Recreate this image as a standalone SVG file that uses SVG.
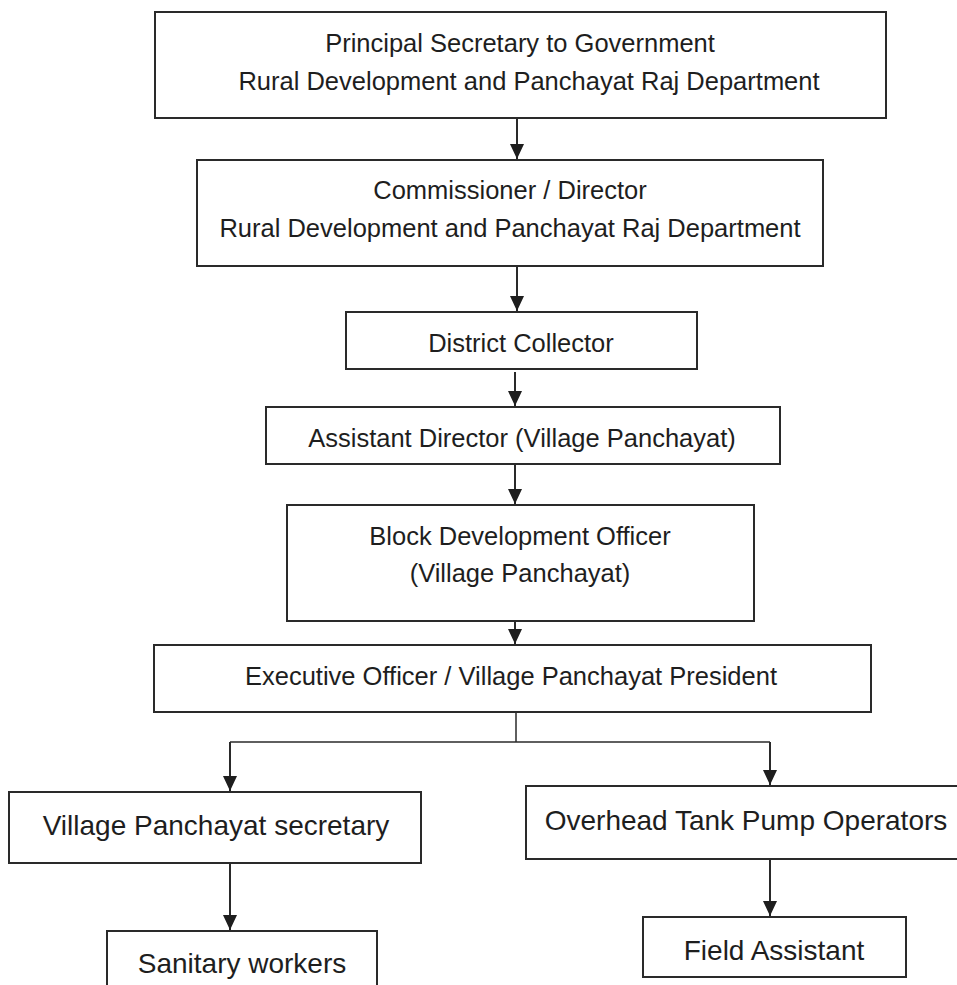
<svg xmlns="http://www.w3.org/2000/svg" width="957" height="985" viewBox="0 0 957 985">
  <style>
    .box { fill: #ffffff; stroke: #2a2a2a; stroke-width: 2; }
    .lbl { font-family: "Liberation Sans", Arial, sans-serif; font-size: 25.5px; fill: #1e1e1e; text-anchor: middle; }
    .big { font-size: 28px; }
    .link { fill: none; stroke: #2a2a2a; stroke-width: 2; }
    .thin { stroke-width: 1.5; }
  </style>
  <defs>
    <marker id="arrow" markerUnits="userSpaceOnUse" markerWidth="16" markerHeight="16" viewBox="0 0 16 16" refX="15" refY="8" orient="auto">
      <path d="M0,1 L15,8 L0,15 Z" fill="#1e1e1e"/>
    </marker>
  </defs>
  <rect width="957" height="985" fill="#ffffff"/>

  <g id="connectors">
    <line class="link" x1="517" y1="118" x2="517" y2="159" marker-end="url(#arrow)"/>
    <line class="link" x1="517" y1="266" x2="517" y2="311" marker-end="url(#arrow)"/>
    <line class="link" x1="515" y1="372" x2="515" y2="406" marker-end="url(#arrow)"/>
    <line class="link" x1="515" y1="464" x2="515" y2="504" marker-end="url(#arrow)"/>
    <line class="link" x1="515" y1="605" x2="515" y2="644" marker-end="url(#arrow)"/>
    <polyline class="link thin" points="516,712 516,742"/>
    <polyline class="link thin" points="230,742 770,742"/>
    <line class="link" x1="230" y1="742" x2="230" y2="791" marker-end="url(#arrow)"/>
    <line class="link" x1="770" y1="742" x2="770" y2="785" marker-end="url(#arrow)"/>
    <line class="link" x1="230" y1="863" x2="230" y2="930" marker-end="url(#arrow)"/>
    <line class="link" x1="770" y1="859" x2="770" y2="916" marker-end="url(#arrow)"/>
  </g>

  <g id="principal-secretary">
    <rect class="box" x="155" y="12" width="731" height="106"/>
    <text class="lbl" x="520" y="52">Principal Secretary to Government</text>
    <text class="lbl" x="529" y="90">Rural Development and Panchayat Raj Department</text>
  </g>

  <g id="commissioner">
    <rect class="box" x="197" y="160" width="626" height="106"/>
    <text class="lbl" x="510" y="199">Commissioner / Director</text>
    <text class="lbl" x="510" y="237">Rural Development and Panchayat Raj Department</text>
  </g>

  <g id="district-collector">
    <rect class="box" x="346" y="312" width="351" height="57"/>
    <text class="lbl" x="521" y="352">District Collector</text>
  </g>

  <g id="assistant-director">
    <rect class="box" x="266" y="407" width="514" height="57"/>
    <text class="lbl" x="522" y="447">Assistant Director (Village Panchayat)</text>
  </g>

  <g id="block-development-officer">
    <rect class="box" x="287" y="505" width="467" height="116"/>
    <text class="lbl" x="520" y="545">Block Development Officer</text>
    <text class="lbl" x="520" y="582">(Village Panchayat)</text>
  </g>

  <g id="executive-officer">
    <rect class="box" x="154" y="645" width="717" height="67"/>
    <text class="lbl" x="511" y="685">Executive Officer / Village Panchayat President</text>
  </g>

  <g id="panchayat-secretary">
    <rect class="box" x="9" y="792" width="412" height="71"/>
    <text class="lbl big" x="216" y="835">Village Panchayat secretary</text>
  </g>

  <g id="pump-operators">
    <rect class="box" x="526" y="786" width="440" height="73"/>
    <text class="lbl big" x="746" y="830">Overhead Tank Pump Operators</text>
  </g>

  <g id="sanitary-workers">
    <rect class="box" x="107" y="931" width="270" height="70"/>
    <text class="lbl big" x="242" y="973">Sanitary workers</text>
  </g>

  <g id="field-assistant">
    <rect class="box" x="643" y="917" width="263" height="60"/>
    <text class="lbl big" x="774" y="960">Field Assistant</text>
  </g>
</svg>
